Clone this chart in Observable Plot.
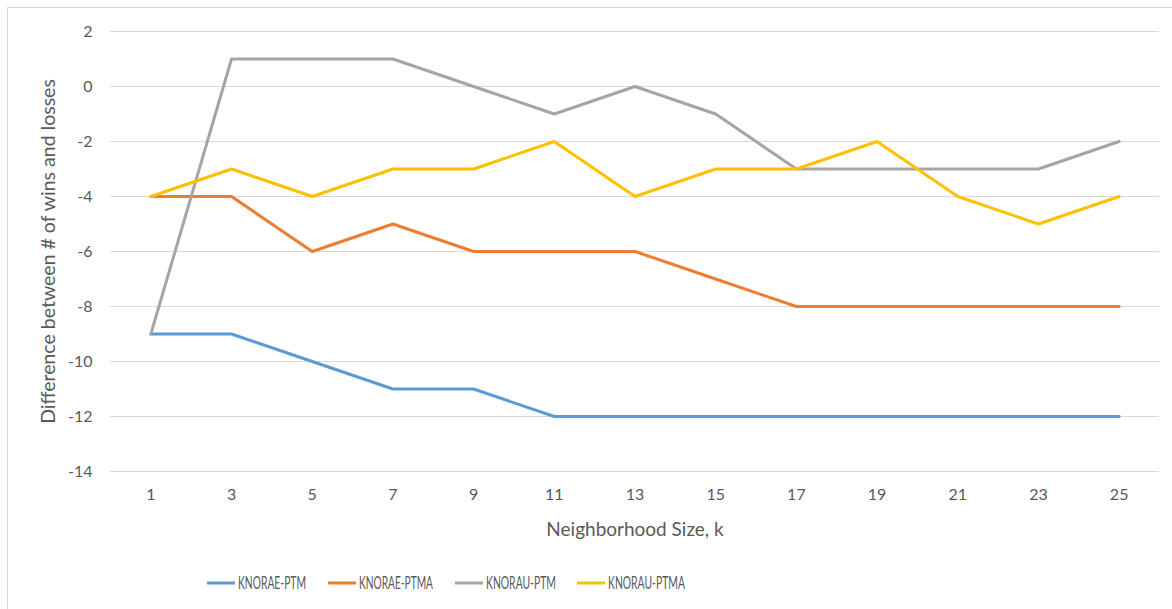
<!DOCTYPE html>
<html>
<head>
<meta charset="utf-8">
<script src="https://cdn.jsdelivr.net/npm/d3@7"></script>
<script src="https://cdn.jsdelivr.net/npm/@observablehq/plot@0.6"></script>
<style>
  html, body { margin: 0; padding: 0; background: #fff; overflow: hidden; }
  body { width: 1172px; height: 609px; position: relative; font-family: Lato, sans-serif; }
  #border { position: absolute; left: 7px; top: 7px; width: 1200px; height: 700px; border: 1px solid #d9d9d9; box-sizing: border-box; }
  #chart { position: absolute; left: 0; top: 0; }
  #legend { position: absolute; left: 0; top: 560px; }
</style>
</head>
<body>
<div id="border"></div>
<div id="chart"></div>
<div id="legend"></div>
<script>
// Neighborhood sizes on the category axis
const ks = [1, 3, 5, 7, 9, 11, 13, 15, 17, 19, 21, 23, 25];

// Difference between number of wins and losses, per method
const knoraePtm  = [-9, -9, -10, -11, -11, -12, -12, -12, -12, -12, -12, -12, -12];
const knoraePtma = [-4, -4, -6, -5, -6, -6, -6, -7, -8, -8, -8, -8, -8];
const knorauPtm  = [-9, 1, 1, 1, 0, -1, 0, -1, -3, -3, -3, -3, -2];
const knorauPtma = [-4, -3, -4, -3, -3, -2, -4, -3, -3, -2, -4, -5, -4];

const seriesNames = ["KNORAE-PTM", "KNORAE-PTMA", "KNORAU-PTM", "KNORAU-PTMA"];
const seriesValues = [knoraePtm, knoraePtma, knorauPtm, knorauPtma];
const colors = ["#5b9bd5", "#ed7d31", "#a5a5a5", "#ffc000"];

const yTicks = [2, 0, -2, -4, -6, -8, -10, -12, -14];

const rows = seriesNames.flatMap((name, i) =>
  ks.map((k, j) => ({series: name, k, value: seriesValues[i][j]}))
);

const textColor = "#595959";
const plainNumber = d => String(d); // hyphen-minus, as in the spreadsheet labels

const chart = Plot.plot({
  width: 1172,
  height: 560,
  marginLeft: 110,
  marginRight: 13,
  marginTop: 31,
  marginBottom: 89,
  style: {fontFamily: "Lato, sans-serif", fontSize: "16px", background: "transparent"},
  x: {type: "point", domain: ks, padding: 0.5, align: 0.5, round: false},
  y: {domain: [-14, 2]},
  color: {domain: seriesNames, range: colors},
  marks: [
    Plot.ruleY(yTicks, {stroke: "#d9d9d9", strokeWidth: 1}),
    Plot.axisY({ticks: yTicks, tickFormat: plainNumber, tickSize: 0, tickPadding: 18,
                fill: textColor, fontSize: 16, label: null}),
    Plot.axisX({tickFormat: plainNumber, tickSize: 0, tickPadding: 17,
                fill: textColor, fontSize: 16, label: null}),
    Plot.line(rows, {x: "k", y: "value", z: "series", stroke: "series", strokeWidth: 3,
                     strokeLinejoin: "round", strokeLinecap: "round"}),
    Plot.text(["Neighborhood Size, k"], {frameAnchor: "bottom", dy: 64, fill: textColor, fontSize: 19}),
    Plot.text(["Difference between # of wins and losses"], {frameAnchor: "left", dx: -62, rotate: -90,
                     textAnchor: "middle", fill: textColor, fontSize: 19.5})
  ]
});
document.getElementById("chart").appendChild(chart);

// Legend below the plot: a short line swatch followed by the series name
const legendSwatchX = [207, 328, 455, 577];
const legendTextWidth = [68, 74, 70, 77];
const legendSvg = d3.select("#legend").append("svg")
  .attr("width", 1172).attr("height", 49);
seriesNames.forEach((name, i) => {
  const g = legendSvg.append("g").attr("transform", `translate(${legendSwatchX[i]},23)`);
  g.append("line").attr("x1", 0).attr("x2", 28).attr("y1", 0).attr("y2", 0)
    .attr("stroke", colors[i]).attr("stroke-width", 3);
  g.append("text").attr("x", 31).attr("y", 0).attr("dy", "0.36em")
    .attr("textLength", legendTextWidth[i]).attr("lengthAdjust", "spacingAndGlyphs")
    .attr("fill", textColor).attr("font-family", "Lato, sans-serif").attr("font-size", 17)
    .text(name);
});
</script>
</body>
</html>
